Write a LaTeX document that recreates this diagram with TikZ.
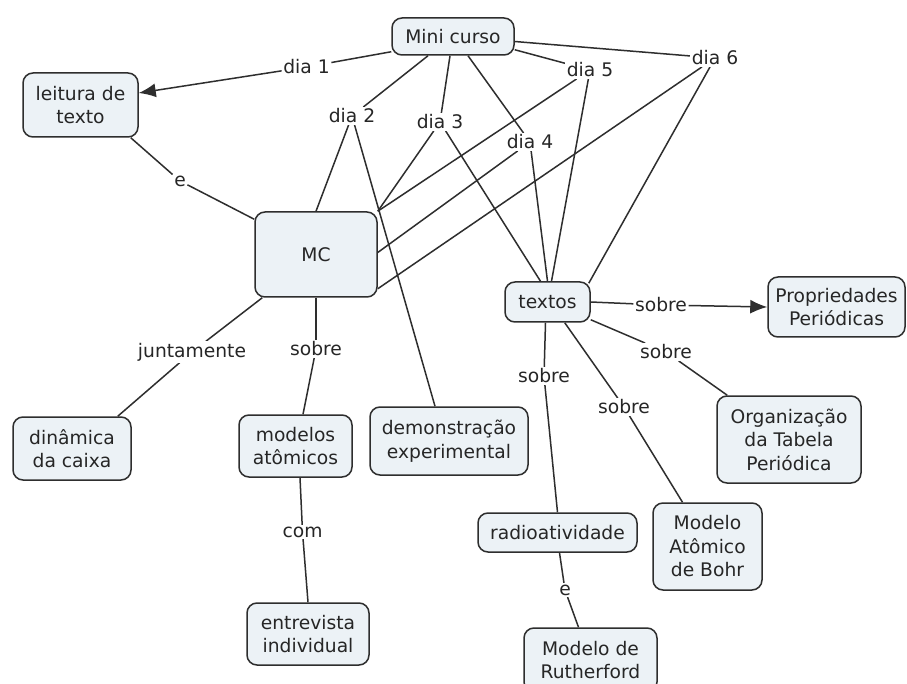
\documentclass[tikz,border=0pt]{standalone}
\usepackage{fontspec}
\setmainfont{DejaVu Sans}
\usetikzlibrary{arrows.meta,calc,backgrounds}
\definecolor{boxfill}{HTML}{ECF2F6}
\definecolor{edge}{HTML}{2E2E2E}
\definecolor{ink}{HTML}{262626}
\tikzset{
  concept/.style={draw=edge, line width=1.5pt, fill=boxfill, rounded corners=10pt,
    align=center, inner sep=0pt, text=ink,
    font=\fontsize{18.7}{23.5}\selectfont},
  linkword/.style={fill=white, inner sep=1.5pt, text=ink,
    font=\fontsize{18.7}{23.5}\selectfont},
  link/.style={draw=edge, line width=1.5pt},
  arrowlink/.style={link, -{Latex[length=17pt,width=14pt]}},
}
\begin{document}
\begin{tikzpicture}[x=1pt,y=-1pt]
\useasboundingbox (0,0) rectangle (907,684);
\clip (0,0) rectangle (907,684);

% concepts
\node[concept, minimum width=122pt, minimum height=37pt] (mini) at (453,36.5) {Mini curso};
\node[concept, minimum width=115pt, minimum height=64pt] (leitura) at (80.5,105) {leitura de\\texto};
\node[concept, minimum width=122pt, minimum height=85pt] (mc) at (316,254.5) {MC};
\node[concept, minimum width=85pt, minimum height=40pt] (textos) at (547.5,302) {textos};
\node[concept, minimum width=137pt, minimum height=60pt] (prop) at (836.5,307) {Propriedades\\Periódicas};
\node[concept, minimum width=144pt, minimum height=87pt] (org) at (789,439.5) {Organização\\da Tabela\\Periódica};
\node[concept, minimum width=118pt, minimum height=63pt] (din) at (72,448.5) {dinâmica\\da caixa};
\node[concept, minimum width=113pt, minimum height=62pt] (modelos) at (295.5,446) {modelos\\atômicos};
\node[concept, minimum width=158pt, minimum height=68pt] (demo) at (449,441) {demonstração\\experimental};
\node[concept, minimum width=122pt, minimum height=62pt] (entre) at (308,634) {entrevista\\individual};
\node[concept, minimum width=159pt, minimum height=39pt] (radio) at (557.5,532.5) {radioatividade};
\node[concept, minimum width=109pt, minimum height=87pt] (bohr) at (707.5,546.5) {Modelo\\Atômico\\de Bohr};
\node[concept, minimum width=133pt, minimum height=64pt] (ruth) at (590.5,660) {Modelo de\\Rutherford};

% linking words
\node[linkword] (d1) at (306.5,67) {dia 1};
\node[linkword] (d2) at (352,116) {dia 2};
\node[linkword] (d3) at (440,122) {dia 3};
\node[linkword] (d4) at (530,142) {dia 4};
\node[linkword] (d5) at (590,70) {dia 5};
\node[linkword] (d6) at (715,58) {dia 6};
\node[linkword] (e1) at (180,181) {e};
\node[linkword] (junt) at (192,352) {juntamente};
\node[linkword] (s0) at (316,349) {sobre};
\node[linkword] (com) at (302.5,532) {com};
\node[linkword] (s1) at (661,305) {sobre};
\node[linkword] (s2) at (666,352) {sobre};
\node[linkword] (s3) at (544,376) {sobre};
\node[linkword] (s4) at (624,407) {sobre};
\node[linkword] (e2) at (565,590) {e};

% connectors
\begin{pgfonlayer}{background}
\fill[white] (0,0) rectangle (907,684);
\draw[link] ($(mini.south west)+(0,-4)$) -- (d1);
\draw[arrowlink] (d1) -- ($(leitura.east)+(0,-12)$);
\draw[link] ($(mini.south)+(-25,0)$) -- (d2);
\draw[link] (d2) -- (mc.north);
\draw[link] (d2) -- ($(demo.north)+(-14,0)$);
\draw[link] ($(mini.south)+(-3,0)$) -- (d3);
\draw[link] (d3) -- (mc.north east);
\draw[link] (d3) -- ($(textos.north)+(-7,0)$);
\draw[link] ($(mini.south)+(15,0)$) -- (d4);
\draw[link] (d4) -- ($(mc.east)+(0,-2)$);
\draw[link] (d4) -- (textos.north);
\draw[link] ($(mini.south east)+(0,-6)$) -- (d5);
\draw[link] (d5) -- (mc.north east);
\draw[link] (d5) -- ($(textos.north)+(4,0)$);
\draw[link] ($(mini.east)+(0,5)$) -- (d6);
\draw[link] (d6) -- ($(mc.south east)+(0,-9)$);
\draw[link] (d6) -- ($(textos.north east)+(-2,2)$);
\draw[link] ($(leitura.south east)+(-8,0)$) -- (e1);
\draw[link] (e1) -- ($(mc.north west)+(0,8)$);
\draw[link] ($(mc.south west)+(8,0)$) -- (junt);
\draw[link] (junt) -- ($(din.north east)+(-14,0)$);
\draw[link] (mc.south) -- (s0);
\draw[link] (s0) -- ($(modelos.north)+(7.5,0)$);
\draw[link] ($(modelos.south)+(4.5,0)$) -- (com);
\draw[link] (com) -- (entre.north);
\draw[link] (textos.east) -- (s1);
\draw[arrowlink] (s1) -- (prop.west);
\draw[link] ($(textos.south east)+(0,-3)$) -- (s2);
\draw[link] (s2) -- ($(org.north west)+(11,0)$);
\draw[link] ($(textos.south)+(-2,0)$) -- (s3);
\draw[link] (s3) -- (radio.north);
\draw[link] ($(textos.south east)+(-26,0)$) -- (s4);
\draw[link] (s4) -- ($(bohr.north)+(-25,0)$);
\draw[link] ($(radio.south)+(2,0)$) -- (e2);
\draw[link] (e2) -- ($(ruth.north)+(-12,0)$);
\end{pgfonlayer}
\end{tikzpicture}
\end{document}
